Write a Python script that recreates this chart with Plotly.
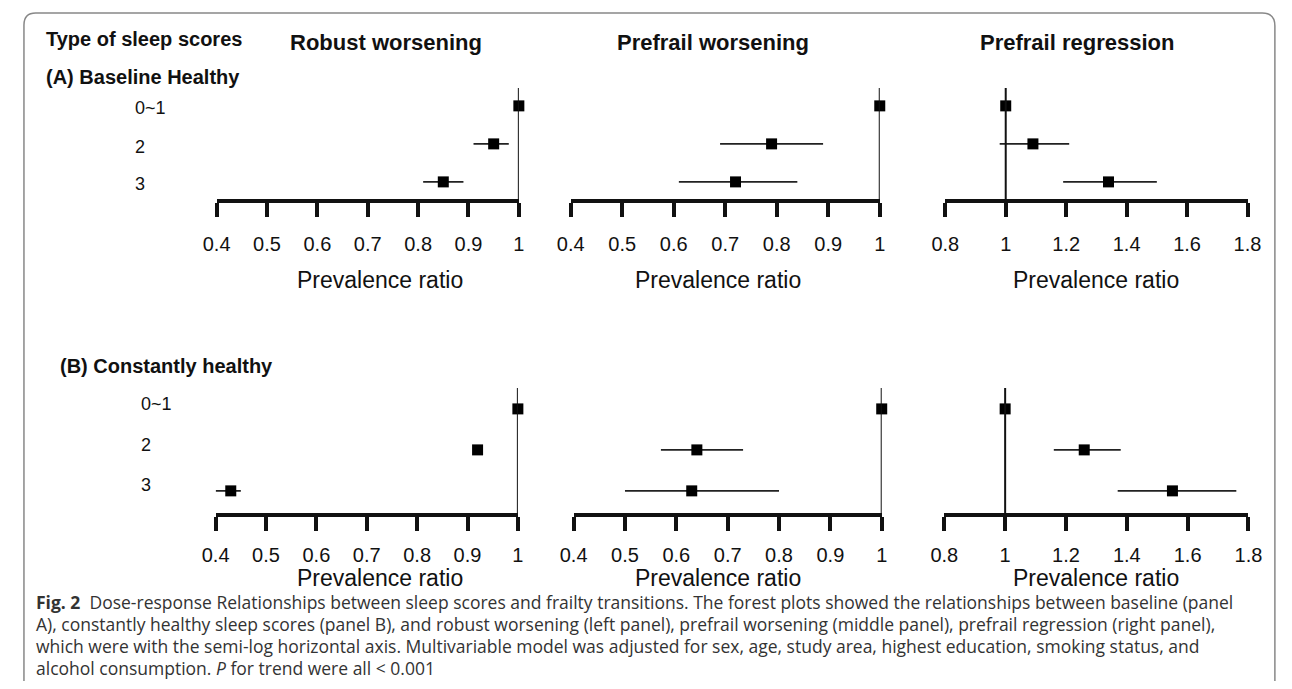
import plotly.graph_objects as go

# Page body has an 8px default margin, so the figure is sized to fit inside it
PAGE_W, PAGE_H = 1292, 689
OFF = 8
W, H = PAGE_W - 2 * OFF, PAGE_H - 2 * OFF

# ---------------- data ----------------
rows = ["0~1", "2", "3"]

# (A) Baseline healthy
a_robust_pr = [1.00, 0.95, 0.85]
a_robust_lo = [1.00, 0.91, 0.81]
a_robust_hi = [1.00, 0.98, 0.89]

a_pw_pr = [1.00, 0.79, 0.72]
a_pw_lo = [1.00, 0.69, 0.61]
a_pw_hi = [1.00, 0.89, 0.84]

a_reg_pr = [1.00, 1.09, 1.34]
a_reg_lo = [1.00, 0.98, 1.19]
a_reg_hi = [1.00, 1.21, 1.50]

# (B) Constantly healthy
b_robust_pr = [1.00, 0.92, 0.43]
b_robust_lo = [1.00, 0.915, 0.40]
b_robust_hi = [1.00, 0.925, 0.45]

b_pw_pr = [1.00, 0.64, 0.63]
b_pw_lo = [1.00, 0.57, 0.50]
b_pw_hi = [1.00, 0.73, 0.80]

b_reg_pr = [1.00, 1.26, 1.55]
b_reg_lo = [1.00, 1.16, 1.37]
b_reg_hi = [1.00, 1.38, 1.76]

worse_ticks = [0.4, 0.5, 0.6, 0.7, 0.8, 0.9, 1.0]
worse_ticktext = ["0.4", "0.5", "0.6", "0.7", "0.8", "0.9", "1"]
reg_ticks = [0.8, 1.0, 1.2, 1.4, 1.6, 1.8]
reg_ticktext = ["0.8", "1", "1.2", "1.4", "1.6", "1.8"]

col_titles = ["Robust worsening", "Prefrail worsening", "Prefrail regression"]
section_titles = ["(A) Baseline Healthy", "(B) Constantly healthy"]
axis_title = "Prevalence ratio"

caption_lines = [
    "<b>Fig. 2</b>  Dose-response Relationships between sleep scores and frailty transitions. The forest plots showed the relationships between baseline (panel",
    "A), constantly healthy sleep scores (panel B), and robust worsening (left panel), prefrail worsening (middle panel), prefrail regression (right panel),",
    "which were with the semi-log horizontal axis. Multivariable model was adjusted for sex, age, study area, highest education, smoking status, and",
    "alcohol consumption. <i>P</i> for trend were all &lt; 0.001",
]

# ---------------- helpers: page pixel -> paper fraction ----------------
def fx(px):
    return (px - OFF) / W

def fy(py):
    return 1 - (py - OFF) / H

ARIAL = "Liberation Sans, Arial, sans-serif"
CAP = "Open Sans, Noto Sans, sans-serif"

fig = go.Figure()

A_YDOM, A_YR = (88, 199), [2.45, -0.47]
B_YDOM, B_YR = (388, 513), [2.54, -0.51]

panels = [
    # (pr, lo, hi, ticks, ticktext, xrange, xdom_px, ydom_px, yrange, standoff)
    (a_robust_pr, a_robust_lo, a_robust_hi, worse_ticks, worse_ticktext, [0.4, 1.0], (207, 516), A_YDOM, A_YR, 10),
    (a_pw_pr, a_pw_lo, a_pw_hi, worse_ticks, worse_ticktext, [0.4, 1.0], (569, 885), A_YDOM, A_YR, 10),
    (a_reg_pr, a_reg_lo, a_reg_hi, reg_ticks, reg_ticktext, [0.8, 1.8], (952, 1261), A_YDOM, A_YR, 10),
    (b_robust_pr, b_robust_lo, b_robust_hi, worse_ticks, worse_ticktext, [0.4, 1.0], (206, 515), B_YDOM, B_YR, 7),
    (b_pw_pr, b_pw_lo, b_pw_hi, worse_ticks, worse_ticktext, [0.4, 1.0], (572, 887), B_YDOM, B_YR, 7),
    (b_reg_pr, b_reg_lo, b_reg_hi, reg_ticks, reg_ticktext, [0.8, 1.8], (951, 1262), B_YDOM, B_YR, 7),
]

shapes = []
for i, (pr, lo, hi, tv, tt, xr, xd, yd, yr, so) in enumerate(panels):
    n = i + 1
    xa = "x" if n == 1 else f"x{n}"
    ya = "y" if n == 1 else f"y{n}"
    plus = [h - p for p, h in zip(pr, hi)]
    minus = [p - l for p, l in zip(pr, lo)]
    fig.add_trace(go.Scatter(
        x=pr, y=rows, xaxis=xa, yaxis=ya, mode="markers",
        marker=dict(symbol="square", size=11, color="black"),
        error_x=dict(type="data", symmetric=False, array=plus, arrayminus=minus,
                     width=0, thickness=1.6, color="#222"),
        cliponaxis=False, showlegend=False, hoverinfo="skip",
    ))
    xkey = "xaxis" if n == 1 else f"xaxis{n}"
    ykey = "yaxis" if n == 1 else f"yaxis{n}"
    fig.layout[xkey] = dict(
        domain=[fx(xd[0]), fx(xd[1])], range=xr, anchor=ya,
        tickmode="array", tickvals=tv, ticktext=tt,
        showline=True, linewidth=3.5, linecolor="#111",
        ticks="outside", ticklen=14, tickwidth=3.5, tickcolor="#111",
        showgrid=False, zeroline=False,
        tickfont=dict(family=ARIAL, size=20, color="#111"),
        ticklabelstandoff=so, fixedrange=True,
    )
    fig.layout[ykey] = dict(
        domain=[fy(yd[1]), fy(yd[0])], anchor=xa, type="category",
        categoryorder="array", categoryarray=rows,
        range=yr, visible=False, showgrid=False, zeroline=False, fixedrange=True,
    )
    shapes.append(dict(type="line", xref=xa, yref=f"{ya} domain",
                       x0=1, x1=1, y0=0, y1=1,
                       line=dict(color="#111", width=2)))

annotations = []

def ann(text, xpx, ypx, size, xanchor="center", bold=False, family=ARIAL, color="#111"):
    annotations.append(dict(
        text=f"<b>{text}</b>" if bold else text,
        x=fx(xpx), y=fy(ypx), xref="paper", yref="paper",
        xanchor=xanchor, yanchor="middle", showarrow=False,
        font=dict(family=family, size=size, color=color),
    ))

ann("Type of sleep scores", 30, 39, 20, xanchor="left", bold=True)
for t, cx in zip(col_titles, [380, 714, 1087]):
    ann(t, cx, 42, 22, bold=True)
ann(section_titles[0], 30, 77, 20, xanchor="left", bold=True)
ann(section_titles[1], 45, 366, 20, xanchor="left", bold=True)

# row labels
for lab, ypx in zip(rows, [108, 147, 184]):
    ann(lab, 122, ypx, 18, xanchor="left")
for lab, ypx in zip(rows, [404, 445, 485]):
    ann(lab, 128, ypx, 18, xanchor="left")

# axis titles
for cx in [374, 720, 1106]:
    ann(axis_title, cx, 280, 23)
for cx in [374, 720, 1106]:
    ann(axis_title, cx, 578, 23)

# caption
for line, ypx in zip(caption_lines, [602, 624, 646, 668]):
    ann(line, 20, ypx, 17.5, xanchor="left", family=CAP, color="#333")

# border (rounded frame, bottom runs off the page)
path = (f"M {fx(22)},{fy(695)} Q {fx(10)},{fy(695)} {fx(10)},{fy(683)} "
        f"L {fx(10)},{fy(25)} Q {fx(10)},{fy(13)} {fx(22)},{fy(13)} "
        f"L {fx(1276)},{fy(13)} Q {fx(1289)},{fy(13)} {fx(1289)},{fy(26)} "
        f"L {fx(1289)},{fy(700)}")
shapes.append(dict(type="path", xref="paper", yref="paper", path=path,
                   line=dict(color="#888", width=1.5)))

fig.update_layout(
    width=W, height=H, margin=dict(l=0, r=0, t=0, b=0),
    paper_bgcolor="white", plot_bgcolor="white",
    shapes=shapes, annotations=annotations, showlegend=False,
)

fig.write_html("out.html")
